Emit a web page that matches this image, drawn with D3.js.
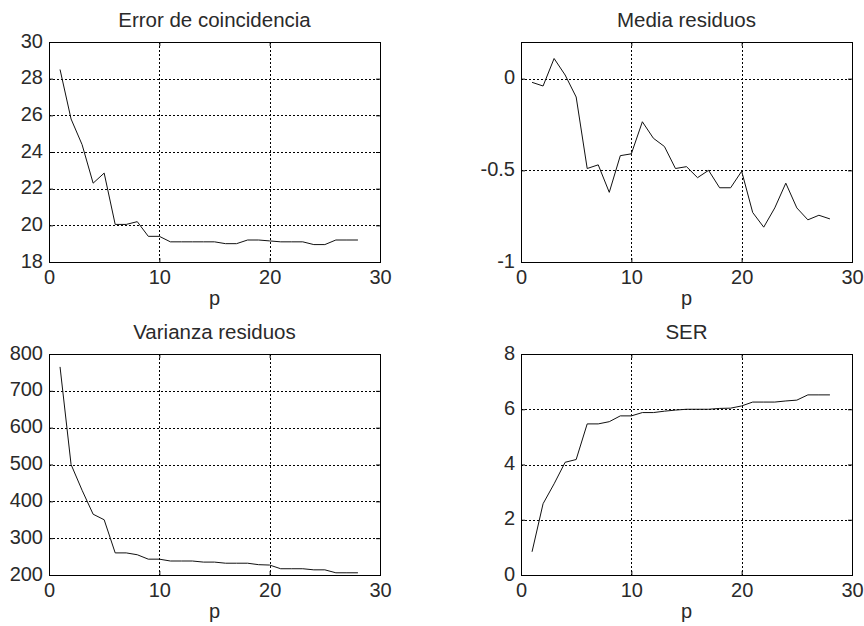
<!DOCTYPE html>
<html>
<head>
<meta charset="utf-8">
<script src="https://cdn.jsdelivr.net/npm/d3@7"></script>
<style>
  body { margin: 0; background: #fff; }
  svg { display: block; }
  text { font-family: "Liberation Sans", Arial, sans-serif; fill: #2a2a2a; }
</style>
</head>
<body>
<figure style="margin:0"></figure>
<script>
var vmax = 864;
var hmax = 626;

// orders p = 1..28
var p = d3.range(1, 29);

var errorCoinc = [28.5, 25.8, 24.4, 22.3, 22.85, 20.05, 20.05, 20.2, 19.4, 19.4,
                  19.1, 19.1, 19.1, 19.1, 19.1, 19.0, 19.0, 19.2, 19.2, 19.15,
                  19.1, 19.1, 19.1, 18.95, 18.95, 19.2, 19.2, 19.2];

var mediaRes = [-0.02, -0.04, 0.11, 0.02, -0.10, -0.49, -0.47, -0.62, -0.42, -0.41,
                -0.235, -0.325, -0.37, -0.49, -0.48, -0.54, -0.50, -0.595, -0.595, -0.505,
                -0.73, -0.81, -0.705, -0.57, -0.705, -0.77, -0.745, -0.765];

var varRes = [765, 500, 430, 365, 350, 260, 260, 255, 243, 243,
              238, 238, 238, 235, 235, 232, 232, 232, 228, 227,
              217, 217, 217, 214, 214, 206, 206, 206];

var ser = [0.84, 2.58, 3.3, 4.08, 4.18, 5.47, 5.47, 5.55, 5.76, 5.76,
           5.88, 5.88, 5.93, 5.97, 6.0, 6.0, 6.0, 6.03, 6.04, 6.12,
           6.26, 6.26, 6.26, 6.3, 6.33, 6.52, 6.52, 6.52];

var xTicks = [0, 10, 20, 30];

var panels = [
  {title: "Error de coincidencia", values: errorCoinc, ydom: [18, 30], yticks: [18, 20, 22, 24, 26, 28, 30],
   box: {x0: 49, x1: 380, y0: 42, y1: 262}},
  {title: "Media residuos", values: mediaRes, ydom: [-1, 0.2], yticks: [-1, -0.5, 0],
   box: {x0: 521, x1: 852, y0: 42, y1: 262}},
  {title: "Varianza residuos", values: varRes, ydom: [200, 800], yticks: [200, 300, 400, 500, 600, 700, 800],
   box: {x0: 49, x1: 380, y0: 354, y1: 575}},
  {title: "SER", values: ser, ydom: [0, 8], yticks: [0, 2, 4, 6, 8],
   box: {x0: 521, x1: 852, y0: 354, y1: 575}}
];

var svg = d3.select("figure").append("svg")
    .attr("width", vmax)
    .attr("height", hmax);

// plain hyphen for negatives, as in the original
var plain = function(d) { return String(d); };

panels.forEach(function(pn) {
  var b = pn.box;
  var w = b.x1 - b.x0, h = b.y1 - b.y0;

  var x = d3.scaleLinear().domain([0, 30]).range([0, w]);
  var y = d3.scaleLinear().domain(pn.ydom).range([h, 0]);

  var g = svg.append("g")
      .attr("transform", "translate(" + b.x0 + "," + b.y0 + ")");

  // dotted grid
  g.append("g").selectAll("line")
      .data(xTicks.slice(1, -1))
      .enter().append("line")
      .attr("x1", function(d) { return Math.round(x(d)) + 0.5; })
      .attr("x2", function(d) { return Math.round(x(d)) + 0.5; })
      .attr("y1", 0).attr("y2", h)
      .attr("stroke", "#000").attr("stroke-dasharray", "2,2");

  g.append("g").selectAll("line")
      .data(pn.yticks.filter(function(d) { return d > pn.ydom[0] && d < pn.ydom[1]; }))
      .enter().append("line")
      .attr("y1", function(d) { return Math.round(y(d)) + 0.5; })
      .attr("y2", function(d) { return Math.round(y(d)) + 0.5; })
      .attr("x1", 0).attr("x2", w)
      .attr("stroke", "#000").attr("stroke-dasharray", "2,2");

  // axes (ticks inside, like matlab)
  var xaxis = d3.axisBottom(x).tickValues(xTicks).tickSize(-4).tickFormat(plain);
  var yaxis = d3.axisLeft(y).tickValues(pn.yticks).tickSize(-4).tickPadding(6).tickFormat(plain);

  var gx = g.append("g").attr("transform", "translate(0," + h + ")").call(xaxis);
  var gy = g.append("g").call(yaxis);
  g.append("g").call(d3.axisTop(x).tickValues(xTicks).tickSize(-4).tickFormat(""));
  g.append("g").attr("transform", "translate(" + w + ",0)")
      .call(d3.axisRight(y).tickValues(pn.yticks).tickSize(-4).tickFormat(""));

  g.selectAll(".domain").remove();
  g.selectAll(".tick line").attr("stroke", "#000");
  [gx, gy].forEach(function(a) {
    a.selectAll("text")
      .attr("font-size", "20px")
      .attr("font-family", "'Liberation Sans', Arial, sans-serif")
      .attr("fill", "#2a2a2a");
  });
  gx.selectAll("text").attr("dy", "0.71em").attr("y", 8);
  gy.selectAll("text").attr("dy", "0.25em");

  // box
  g.append("rect")
      .attr("x", 0.5).attr("y", 0.5)
      .attr("width", w).attr("height", h)
      .attr("fill", "none").attr("stroke", "#000");

  // data line
  var line = d3.line()
      .x(function(d, i) { return x(p[i]); })
      .y(function(d) { return y(d); });

  g.append("path")
      .datum(pn.values)
      .attr("d", line)
      .attr("fill", "none")
      .attr("stroke", "#111")
      .attr("stroke-width", 1);

  // title and x label
  g.append("text")
      .attr("x", w / 2).attr("y", -15)
      .attr("text-anchor", "middle")
      .attr("font-size", "20.5px")
      .text(pn.title);

  g.append("text")
      .attr("x", w / 2).attr("y", h + 43)
      .attr("text-anchor", "middle")
      .attr("font-size", "20px")
      .text("p");
});
</script>
</body>
</html>
